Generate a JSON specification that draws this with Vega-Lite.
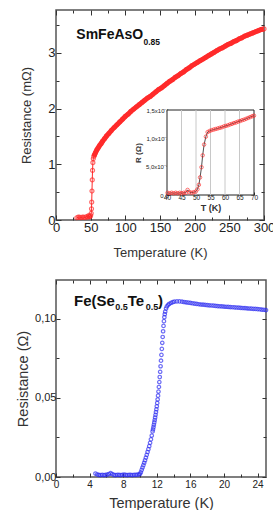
{
  "$schema": "https://vega.github.io/schema/vega-lite/v6.json",
  "padding": {"left": 14, "top": 8, "right": 0, "bottom": 0},
  "spacing": 18,
  "config": {
    "font": "Liberation Sans",
    "view": {"stroke": "#555", "strokeWidth": 1.5},
    "axis": {"grid": false, "domain": false, "tickColor": "#333", "labelColor": "#222", "titleColor": "#333", "titleFontWeight": "normal", "labelOverlap": false, "labelFlush": false, "tickCount": 100}
  },
  "datasets": {
    "main": [
      {"T":30,"R":0.04},{"T":32,"R":0.05},{"T":34,"R":0.05},{"T":36,"R":0.04},{"T":38,"R":0.05},{"T":40,"R":0.05},{"T":42,"R":0.04},{"T":44,"R":0.06},{"T":46,"R":0.05},{"T":47,"R":0.08},{"T":48,"R":0.06},{"T":49,"R":0.06},{"T":50,"R":0.08},{"T":50.8,"R":0.12},{"T":51.2,"R":0.2},{"T":51.5,"R":0.32},{"T":51.9,"R":0.52},{"T":52.3,"R":0.72},{"T":52.7,"R":0.89},{"T":53.2,"R":1.03},{"T":53.8,"R":1.1},{"T":54.5,"R":1.14},{"T":55.5,"R":1.17},{"T":57,"R":1.21},{"T":59,"R":1.26},{"T":61,"R":1.3},{"T":63,"R":1.34},{"T":65,"R":1.37},{"T":67,"R":1.41},{"T":70,"R":1.46},{"T":73,"R":1.51},{"T":76,"R":1.55},{"T":80,"R":1.61},{"T":84,"R":1.66},{"T":88,"R":1.71},{"T":92,"R":1.76},{"T":96,"R":1.81},{"T":100,"R":1.86},{"T":104,"R":1.9},{"T":108,"R":1.95},{"T":112,"R":1.99},{"T":116,"R":2.03},{"T":120,"R":2.07},{"T":124,"R":2.11},{"T":128,"R":2.15},{"T":132,"R":2.19},{"T":136,"R":2.22},{"T":140,"R":2.26},{"T":144,"R":2.3},{"T":148,"R":2.34},{"T":152,"R":2.37},{"T":156,"R":2.41},{"T":160,"R":2.45},{"T":164,"R":2.49},{"T":168,"R":2.52},{"T":172,"R":2.56},{"T":176,"R":2.59},{"T":180,"R":2.63},{"T":184,"R":2.66},{"T":188,"R":2.7},{"T":192,"R":2.73},{"T":196,"R":2.77},{"T":200,"R":2.8},{"T":204,"R":2.83},{"T":208,"R":2.86},{"T":212,"R":2.89},{"T":216,"R":2.92},{"T":220,"R":2.95},{"T":224,"R":2.98},{"T":228,"R":3.01},{"T":232,"R":3.04},{"T":236,"R":3.07},{"T":240,"R":3.09},{"T":244,"R":3.12},{"T":248,"R":3.15},{"T":252,"R":3.17},{"T":256,"R":3.2},{"T":260,"R":3.22},{"T":264,"R":3.25},{"T":268,"R":3.27},{"T":272,"R":3.3},{"T":276,"R":3.32},{"T":280,"R":3.34},{"T":284,"R":3.36},{"T":288,"R":3.38},{"T":292,"R":3.4},{"T":296,"R":3.42},{"T":300,"R":3.43}
    ],
    "inset": [
      {"T":40.2,"R":0.00004},{"T":40.9,"R":0.00003},{"T":41.6,"R":0.00004},{"T":42.3,"R":0.00003},{"T":43.0,"R":0.00004},{"T":43.7,"R":0.00003},{"T":44.4,"R":0.00004},{"T":45.1,"R":0.00003},{"T":45.8,"R":0.00004},{"T":46.5,"R":0.00004},{"T":47.1,"R":0.00009},{"T":47.8,"R":0.00005},{"T":48.5,"R":0.00004},{"T":49.2,"R":0.00005},{"T":49.9,"R":0.00006},{"T":50.5,"R":0.0001},{"T":51.0,"R":0.00018},{"T":51.4,"R":0.00031},{"T":51.9,"R":0.00049},{"T":52.3,"R":0.0007},{"T":52.8,"R":0.00089},{"T":53.4,"R":0.00103},{"T":54.0,"R":0.00111},{"T":54.7,"R":0.00113},{"T":55.4,"R":0.001145},{"T":56.1,"R":0.001155},{"T":56.8,"R":0.001165},{"T":57.5,"R":0.001175},{"T":58.2,"R":0.001185},{"T":58.9,"R":0.001195},{"T":59.6,"R":0.00121},{"T":60.3,"R":0.00122},{"T":61.0,"R":0.00123},{"T":61.7,"R":0.001245},{"T":62.4,"R":0.001255},{"T":63.1,"R":0.00127},{"T":63.8,"R":0.00128},{"T":64.5,"R":0.001295},{"T":65.2,"R":0.001305},{"T":65.9,"R":0.00132},{"T":66.6,"R":0.00133},{"T":67.3,"R":0.001345},{"T":68.0,"R":0.00136},{"T":68.7,"R":0.001375},{"T":69.4,"R":0.00139},{"T":70.0,"R":0.0014}
    ],
    "grid": [{"T":45},{"T":50},{"T":55},{"T":60},{"T":65}],
    "fese": [
      {"T":4.7,"R":0.0022},{"T":4.9,"R":0.0016},{"T":5.1,"R":0.0013},{"T":5.3,"R":0.0012},{"T":5.5,"R":0.0014},{"T":5.7,"R":0.0012},{"T":5.9,"R":0.0013},{"T":6.1,"R":0.0015},{"T":6.3,"R":0.0019},{"T":6.5,"R":0.0024},{"T":6.7,"R":0.0018},{"T":6.9,"R":0.0013},{"T":7.1,"R":0.0012},{"T":7.3,"R":0.0014},{"T":7.5,"R":0.0013},{"T":7.7,"R":0.0012},{"T":7.9,"R":0.0014},{"T":8.1,"R":0.0015},{"T":8.3,"R":0.0013},{"T":8.5,"R":0.0012},{"T":8.7,"R":0.0014},{"T":8.9,"R":0.0013},{"T":9.1,"R":0.0012},{"T":9.3,"R":0.0014},{"T":9.5,"R":0.0013},{"T":9.7,"R":0.0015},{"T":9.9,"R":0.0016},{"T":10.0,"R":0.002},
      {"T":10.1,"R":0.003},{"T":10.2,"R":0.0045},{"T":10.3,"R":0.006},{"T":10.4,"R":0.0075},{"T":10.5,"R":0.009},{"T":10.6,"R":0.0106},{"T":10.7,"R":0.0122},{"T":10.8,"R":0.014},{"T":10.9,"R":0.0158},{"T":11.0,"R":0.0176},{"T":11.1,"R":0.0195},{"T":11.2,"R":0.0216},{"T":11.3,"R":0.0238},{"T":11.4,"R":0.0262},{"T":11.5,"R":0.0288},{"T":11.55,"R":0.0301},{"T":11.6,"R":0.0315},{"T":11.65,"R":0.033},{"T":11.7,"R":0.0345},{"T":11.75,"R":0.036},{"T":11.8,"R":0.0376},{"T":11.85,"R":0.0393},{"T":11.9,"R":0.041},{"T":11.95,"R":0.0428},{"T":12.0,"R":0.0447},{"T":12.05,"R":0.0468},{"T":12.1,"R":0.049},{"T":12.15,"R":0.0514},{"T":12.2,"R":0.054},{"T":12.25,"R":0.0569},{"T":12.3,"R":0.06},{"T":12.35,"R":0.0632},{"T":12.4,"R":0.0665},{"T":12.45,"R":0.07},{"T":12.5,"R":0.0735},{"T":12.55,"R":0.0772},{"T":12.6,"R":0.081},{"T":12.65,"R":0.0848},{"T":12.7,"R":0.0885},{"T":12.75,"R":0.0921},{"T":12.8,"R":0.0955},{"T":12.85,"R":0.0985},{"T":12.9,"R":0.101},{"T":12.95,"R":0.1029},{"T":13.0,"R":0.1045},{"T":13.1,"R":0.1065},{"T":13.2,"R":0.1078},{"T":13.35,"R":0.1088},{"T":13.5,"R":0.1095},{"T":13.7,"R":0.1101},{"T":13.9,"R":0.1105},{"T":14.1,"R":0.1108},{"T":14.4,"R":0.111},{"T":14.7,"R":0.111},
      {"T":15.0,"R":0.1108},{"T":15.25,"R":0.1106},{"T":15.5,"R":0.1104},{"T":15.75,"R":0.1102},{"T":16.0,"R":0.11},{"T":16.25,"R":0.1098},{"T":16.5,"R":0.1096},{"T":16.75,"R":0.1094},{"T":17.0,"R":0.1092},{"T":17.25,"R":0.109},{"T":17.5,"R":0.1089},{"T":17.75,"R":0.1088},{"T":18.0,"R":0.1086},{"T":18.25,"R":0.1085},{"T":18.5,"R":0.1084},{"T":18.75,"R":0.1083},{"T":19.0,"R":0.1081},{"T":19.25,"R":0.108},{"T":19.5,"R":0.1079},{"T":19.75,"R":0.1078},{"T":20.0,"R":0.1077},{"T":20.25,"R":0.1076},{"T":20.5,"R":0.1075},{"T":20.75,"R":0.1074},{"T":21.0,"R":0.1073},{"T":21.25,"R":0.1072},{"T":21.5,"R":0.1071},{"T":21.75,"R":0.107},{"T":22.0,"R":0.1069},{"T":22.25,"R":0.1068},{"T":22.5,"R":0.1067},{"T":22.75,"R":0.1066},{"T":23.0,"R":0.1065},{"T":23.25,"R":0.1064},{"T":23.5,"R":0.1063},{"T":23.75,"R":0.1062},{"T":24.0,"R":0.1061},{"T":24.25,"R":0.106},{"T":24.5,"R":0.1058},{"T":24.75,"R":0.1057},{"T":25.0,"R":0.1055}
    ]
  },
  "vconcat": [
    {
      "width": 208,
      "height": 210,
      "layer": [
        {
          "layer": [
            {
              "layer": [
                {
                  "data": {"name": "main"},
                  "mark": {"type": "line", "color": "#ff2b2b", "strokeWidth": 1},
                  "encoding": {
                    "x": {"field": "T", "type": "quantitative", "scale": {"domain": [0, 300], "nice": false, "zero": false},
                      "axis": {"title": "Temperature (K)", "values": [0,25,50,75,100,125,150,175,200,225,250,275,300], "tickCount": 100, "labelOverlap": false,
                        "labelExpr": "datum.value % 50 == 0 ? format(datum.value, 'd') : ''",
                        "tickSize": {"condition": {"test": "datum.value % 50 == 0", "value": -5}, "value": -3},
                        "labelFontSize": 13, "titleFontSize": 13, "labelPadding": 6, "titlePadding": 10}},
                    "y": {"field": "R", "type": "quantitative", "scale": {"domain": [0, 3.77], "nice": false},
                      "axis": {"title": "Resistance (mΩ)", "values": [0,0.5,1,1.5,2,2.5,3,3.5], "tickCount": 100, "labelOverlap": false,
                        "labelExpr": "datum.value % 1 == 0 ? format(datum.value, 'd') : ''",
                        "tickSize": {"condition": {"test": "datum.value % 1 == 0", "value": -5}, "value": -3},
                        "labelFontSize": 13, "titleFontSize": 13, "labelPadding": 6, "titlePadding": 14}}
                  }
                },
                {
                  "data": {"name": "main"},
                  "transform": [{"filter": "datum.T >= 54"}],
                  "mark": {"type": "line", "color": "#ff2b2b", "strokeWidth": 5},
                  "encoding": {"x": {"field": "T", "type": "quantitative"}, "y": {"field": "R", "type": "quantitative"}}
                },
                {
                  "data": {"name": "main"},
                  "mark": {"type": "point", "shape": "circle", "filled": false, "color": "#ff2b2b", "size": 16, "strokeWidth": 1.2},
                  "encoding": {"x": {"field": "T", "type": "quantitative"}, "y": {"field": "R", "type": "quantitative"}}
                },
                {
                  "data": {"values": [{"label": "SmFeAsO"}]},
                  "mark": {"type": "text", "align": "left", "baseline": "alphabetic", "fontSize": 14, "fontWeight": "bold", "color": "#111"},
                  "encoding": {"x": {"datum": 29.3}, "y": {"datum": 3.255}, "text": {"field": "label"}}
                },
                {
                  "data": {"values": [{"label": "0.85"}]},
                  "mark": {"type": "text", "align": "left", "baseline": "alphabetic", "fontSize": 8.5, "fontWeight": "bold", "color": "#111"},
                  "encoding": {"x": {"datum": 126.2}, "y": {"datum": 3.147}, "text": {"field": "label"}}
                }
              ]
            },
            {
              "data": {"name": "main"},
              "mark": {"type": "point", "opacity": 0},
              "encoding": {
                "x": {"field": "T", "type": "quantitative",
                  "axis": {"orient": "top", "title": null, "labels": false, "values": [0,25,50,75,100,125,150,175,200,225,250,275,300], "tickCount": 100,
                    "tickSize": {"condition": {"test": "datum.value % 50 == 0", "value": -5}, "value": -3}}},
                "y": {"field": "R", "type": "quantitative",
                  "axis": {"orient": "right", "title": null, "labels": false, "values": [0,0.5,1,1.5,2,2.5,3,3.5], "tickCount": 100,
                    "tickSize": {"condition": {"test": "datum.value % 1 == 0", "value": -5}, "value": -3}}}
              }
            }
          ],
          "resolve": {"axis": {"x": "independent", "y": "independent"}}
        },
        {
          "layer": [
            {
              "data": {"values": [{"x0": 40, "x1": 70, "y0": 0, "y1": 0.0015}]},
              "mark": {"type": "rect", "fill": "white", "stroke": "#222", "strokeWidth": 1},
              "encoding": {
                "x": {"field": "x0", "type": "quantitative", "scale": {"domain": [40, 70], "range": [111, 198], "nice": false, "zero": false},
                  "axis": {"orient": "bottom", "offset": -25, "title": "T (K)", "values": [40,45,50,55,60,65,70], "format": "d", "tickCount": 100, "labelOverlap": false, "labelFontSize": 6.5, "titleFontSize": 9, "titleFontWeight": "bold", "tickSize": -3, "labelPadding": 2, "titlePadding": 3}},
                "x2": {"field": "x1"},
                "y": {"field": "y0", "type": "quantitative", "scale": {"domain": [0, 0.0015], "range": [185, 100], "nice": false},
                  "axis": {"orient": "left", "offset": -111, "title": "R (Ω)", "values": [0, 0.0005, 0.001, 0.0015], "tickCount": 100, "labelOverlap": false, "labelFontSize": 6, "titleFontSize": 8, "titleFontWeight": "bold", "tickSize": -3, "labelPadding": 2, "titlePadding": 3,
                    "labelExpr": "datum.value == 0 ? '0,0' : datum.value < 0.0007 ? '5,0x10⁻⁴' : datum.value < 0.0012 ? '1,0x10⁻³' : '1,5x10⁻³'"}},
                "y2": {"field": "y1"}
              }
            },
            {
              "data": {"name": "grid"},
              "mark": {"type": "rule", "color": "#c8c8c8", "strokeWidth": 1},
              "encoding": {"x": {"field": "T", "type": "quantitative"}, "y": {"datum": 0}, "y2": {"datum": 0.0015}}
            },
            {
              "data": {"name": "inset"},
              "mark": {"type": "line", "color": "#222", "strokeWidth": 0.8},
              "encoding": {"x": {"field": "T", "type": "quantitative"}, "y": {"field": "R", "type": "quantitative"}}
            },
            {
              "data": {"name": "inset"},
              "mark": {"type": "point", "shape": "circle", "filled": false, "color": "#ff2b2b", "size": 12, "strokeWidth": 1},
              "encoding": {"x": {"field": "T", "type": "quantitative"}, "y": {"field": "R", "type": "quantitative"}}
            }
          ]
        }
      ],
      "resolve": {"scale": {"x": "independent", "y": "independent"}, "axis": {"x": "independent", "y": "independent"}}
    },
    {
      "width": 210,
      "height": 197,
      "layer": [
        {
          "layer": [
            {
              "data": {"name": "fese"},
              "mark": {"type": "point", "shape": "circle", "filled": false, "color": "#2e2ef2", "size": 12, "strokeWidth": 1.2},
              "encoding": {
                "x": {"field": "T", "type": "quantitative", "scale": {"domain": [0, 25], "nice": false, "zero": false},
                  "axis": {"title": "Temperature (K)", "values": [0,2,4,6,8,10,12,14,16,18,20,22,24], "tickCount": 100, "labelOverlap": false,
                    "labelExpr": "datum.value % 4 == 0 ? format(datum.value, 'd') : ''",
                    "tickSize": {"condition": {"test": "datum.value % 4 == 0", "value": -4}, "value": -3},
                    "labelFontSize": 10, "titleFontSize": 14.5, "labelPadding": 6, "titlePadding": 6}},
                "y": {"field": "R", "type": "quantitative", "scale": {"domain": [0, 0.1245], "nice": false},
                  "axis": {"title": "Resistance (Ω)", "values": [0, 0.025, 0.05, 0.075, 0.1], "tickCount": 100, "labelOverlap": false,
                    "labelExpr": "round(datum.value * 1000) % 50 == 0 ? replace(format(datum.value, '.2f'), '.', ',') : ''",
                    "tickSize": {"condition": {"test": "round(datum.value * 1000) % 50 == 0", "value": -4}, "value": -3},
                    "labelFontSize": 11, "titleFontSize": 14.5, "labelPadding": 4, "titlePadding": 4}}
              }
            },
            {"data": {"values": [{"label": "Fe(Se"}]}, "mark": {"type": "text", "align": "left", "baseline": "alphabetic", "fontSize": 15, "fontWeight": "bold", "color": "#111"}, "encoding": {"x": {"datum": 2.15}, "y": {"datum": 0.1083}, "text": {"field": "label"}}},
            {"data": {"values": [{"label": "0.5"}]}, "mark": {"type": "text", "align": "left", "baseline": "alphabetic", "fontSize": 9, "fontWeight": "bold", "color": "#111"}, "encoding": {"x": {"datum": 7.06}, "y": {"datum": 0.1054}, "text": {"field": "label"}}},
            {"data": {"values": [{"label": "Te"}]}, "mark": {"type": "text", "align": "left", "baseline": "alphabetic", "fontSize": 15, "fontWeight": "bold", "color": "#111"}, "encoding": {"x": {"datum": 8.55}, "y": {"datum": 0.1083}, "text": {"field": "label"}}},
            {"data": {"values": [{"label": "0.5"}]}, "mark": {"type": "text", "align": "left", "baseline": "alphabetic", "fontSize": 9, "fontWeight": "bold", "color": "#111"}, "encoding": {"x": {"datum": 10.68}, "y": {"datum": 0.1054}, "text": {"field": "label"}}},
            {"data": {"values": [{"label": ")"}]}, "mark": {"type": "text", "align": "left", "baseline": "alphabetic", "fontSize": 15, "fontWeight": "bold", "color": "#111"}, "encoding": {"x": {"datum": 12.14}, "y": {"datum": 0.1083}, "text": {"field": "label"}}}
          ]
        },
        {
          "data": {"name": "fese"},
          "mark": {"type": "point", "opacity": 0},
          "encoding": {
            "x": {"field": "T", "type": "quantitative",
              "axis": {"orient": "top", "title": null, "labels": false, "values": [0,2,4,6,8,10,12,14,16,18,20,22,24], "tickCount": 100,
                "tickSize": {"condition": {"test": "datum.value % 4 == 0", "value": -4}, "value": -3}}},
            "y": {"field": "R", "type": "quantitative",
              "axis": {"orient": "right", "title": null, "labels": false, "values": [0, 0.025, 0.05, 0.075, 0.1], "tickCount": 100,
                "tickSize": {"condition": {"test": "round(datum.value * 1000) % 50 == 0", "value": -4}, "value": -3}}}
          }
        }
      ],
      "resolve": {"axis": {"x": "independent", "y": "independent"}}
    }
  ]
}
